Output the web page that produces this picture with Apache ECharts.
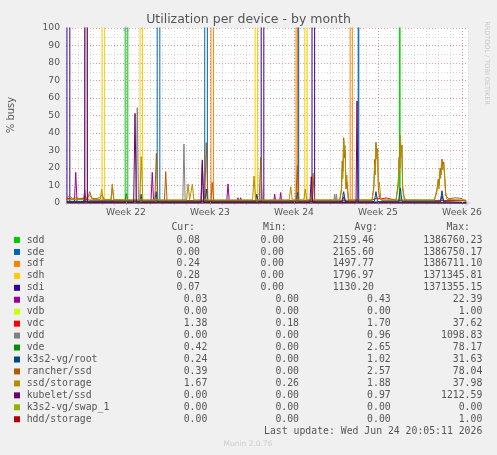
<!DOCTYPE html>
<html><head><meta charset="utf-8">
<script src="https://cdn.jsdelivr.net/npm/echarts@6/dist/echarts.min.js"></script>
<style>html,body{margin:0;padding:0;background:#F0F0F0;}#c{width:497px;height:455px;}</style>
</head><body><div id="c"></div>
<script>
// ---- axis data (x in days from start of Week 22) ----
const weekTicks = [0, 7, 14, 21, 28];
const weekLabels = ['Week 22', 'Week 23', 'Week 24', 'Week 25', 'Week 26'];
const yTicks = [0, 10, 20, 30, 40, 50, 60, 70, 80, 90, 100];

// ---- legend ----
const legendNames = ['sdd','sde','sdf','sdh','sdi','vda','vdb','vdc','vdd','vde','k3s2-vg/root','rancher/ssd','ssd/storage','kubelet/ssd','k3s2-vg/swap_1','hdd/storage'];
const legendColors = ['#00CC00','#0066B3','#FF8000','#FFCC00','#330099','#990099','#CCFF00','#FF0000','#808080','#008F00','#00487D','#B35A00','#B38F00','#6B006B','#8FB300','#B30000'];
const curVals = ['0.08','0.00','0.24','0.28','0.07','0.03','0.00','1.38','0.00','0.42','0.24','0.39','1.67','0.00','0.00','0.00'];
const minVals = ['0.00','0.00','0.00','0.00','0.00','0.00','0.00','0.18','0.00','0.00','0.00','0.00','0.26','0.00','0.00','0.00'];
const avgVals = ['2159.46','2165.60','1497.77','1796.97','1130.20','0.43','0.00','1.70','0.96','2.65','1.02','2.57','1.88','0.97','0.00','0.00'];
const maxVals = ['1386760.23','1386750.17','1386711.10','1371345.81','1371355.15','22.39','1.00','37.62','1098.83','78.17','31.63','78.04','37.98','1212.59','0.00','1.00'];

// ---- series points [day, % busy] ----
const sdd = [[-4.92,0.1],[-0.07,0.1],[0.04,1386760],[0.15,0.1],[22.78,0.1],[22.81,1386000],[22.84,0.1],[28.35,0.08]];
const sde = [[-4.92,0],[2.6,0],[2.71,1386750],[2.82,0],[6.56,0],[6.67,1386000],[6.78,0],[14.33,0],[14.36,1380000],[14.39,0],[19.35,0],[19.375,1380000],[19.4,0],[28.35,0]];
const sdf = [[-4.92,0.2],[7.08,0.2],[7.19,1386711],[7.3,0.2],[14.17,0.2],[14.225,1380000],[14.28,0.2],[18.68,0.2],[18.77,1386000],[18.86,0.2],[28.35,0.24]];
const sdh = [[-4.92,0.3],[-2.0,0.3],[-1.9,1371345],[-1.8,0.3],[1.175,0.3],[1.275,1371000],[1.375,0.3],[10.76,0.3],[10.86,1371000],[10.96,0.3],[14.9,0.3],[15.0,1371000],[15.1,0.3],[28.35,0.28]];
const sdi = [[-4.92,0.1],[-4.9,0.1],[-4.79,1371355],[-4.68,0.1],[11.265,0.1],[11.375,1371000],[11.485,0.1],[15.5,0.1],[15.61,1371000],[15.72,0.1],[28.35,0.07]];
const vda = [[-4.92,0.5],[-4.3,0.5],[-4.19,17.5],[-4.08,0.5],[-3.55,0.5],[-3.44,7.4],[-3.33,0.5],[2.08,0.3],[2.19,17.5],[2.3,0.3],[6.25,0.3],[6.36,22.39],[6.47,0.3],[8.39,0.3],[8.5,10.9],[8.61,0.3],[9.25,0.3],[9.33,3],[9.42,0.3],[9.5,0.3],[9.56,3],[9.65,0.3],[12.3,0.3],[12.39,5],[12.48,0.3],[12.8,0.3],[12.89,6],[12.98,0.3],[18.0,0.3],[18.14,3.5],[18.3,0.3],[26.2,0.3],[26.33,4],[26.5,0.3],[28.35,0.03]];
const vdb = [[-4.92,0],[28.35,0]];
const vdc = [[-4.92,2.6],[-4.6,2.3],[-4.2,1.9],[-3.6,2.5],[-3.0,1.6],[0,1.5],[10,1.4],[20.5,1.6],[20.9,2.8],[21.3,2.4],[21.7,2.9],[22.1,2.2],[22.5,1.6],[28.35,1.38]];
const vdd = [[-4.92,0.1],[-3.44,0.1],[-3.33,1098.83],[-3.22,0.1],[0.84,0.1],[0.94,54.5],[1.04,0.1],[4.73,0.1],[4.83,33.7],[4.93,0.1],[17.3,0.1],[17.39,5],[17.46,0.1],[17.53,5],[17.62,0.1],[28.35,0]];
const vde = [[-4.92,1],[-0.08,1],[0.03,5.5],[0.14,1],[28.35,0.42]];
const k3sRoot = [[-4.92,0.8],[1.15,0.8],[1.25,5],[1.35,0.8],[2.4,0.8],[2.5,6.5],[2.6,0.8],[6.58,0.8],[6.69,8],[6.8,0.8],[10.8,0.8],[10.9,5],[11.0,0.8],[14.17,0.8],[14.28,6],[14.39,0.8],[18.0,0.8],[18.14,6.5],[18.28,0.8],[20.7,0.8],[20.83,6.5],[20.96,0.8],[22.72,0.8],[22.86,8.5],[23.0,0.8],[26.2,0.8],[26.33,7],[26.46,0.8],[28.35,0.24]];
const rancherSsd = [[-4.92,3.2],[-4.7,3.8],[-4.45,2.6],[-4.2,3],[-3.9,2.4],[-3.6,2.8],[-3.2,2.2],[-3.03,6.5],[-2.85,2.8],[-2.5,2.4],[-2.2,3.2],[-2.0,4.5],[-1.8,2.0],[-1.5,1.4],[-1.25,1.4],[-1.14,9.5],[-1.0,1.3],[2.4,1.3],[2.53,28.4],[2.66,1.3],[3.2,1.3],[3.31,17.9],[3.42,1.3],[6.55,1.3],[6.69,34.5],[6.83,1.3],[7.08,1.3],[7.19,11.8],[7.3,1.3],[11.1,1.3],[11.23,26.1],[11.36,1.3],[14.15,1.3],[14.28,21.3],[14.41,1.3],[15.45,1.3],[15.58,17],[15.71,1.3],
  [17.8,1.3],[17.95,8],[18.02,24],[18.08,18],[18.14,37.3],[18.21,26],[18.27,30],[18.33,8],[18.42,12],[18.55,1.3],
  [20.5,1.3],[20.66,10],[20.73,25],[20.79,19],[20.83,34.7],[20.9,27],[20.97,31],[21.04,7],[21.15,3],[21.3,1.5],
  [22.5,1.5],[22.69,12],[22.76,26],[22.81,20],[22.86,38.5],[22.93,28],[22.99,33],[23.06,9],[23.2,1.5],
  [25.7,1.5],[25.92,8],[26.02,13.6],[26.1,10],[26.18,20],[26.25,16],[26.33,25.1],[26.4,21],[26.48,23.5],[26.57,14],[26.66,4],[26.9,2.5],[27.5,3],[28.0,2.5],[28.35,0.39]];
const ssdStorage = [[-4.92,2.0],[-3.5,2.0],[-3.03,4.5],[-2.8,2],[-2.15,2],[-2.03,7.8],[-1.9,2],[-1.25,2],[-1.14,10.9],[-1.03,2],[1.15,1.8],[1.275,26.5],[1.4,1.8],[5.05,1.8],[5.17,10.9],[5.3,1.8],[5.42,1.8],[5.53,10.9],[5.65,1.8],[10.55,1.8],[10.67,15.4],[10.8,1.8],[13.6,1.8],[13.73,9.3],[13.85,1.8],[14.82,1.8],[14.94,8],[15.06,1.8],
  [17.8,1.8],[17.95,6],[18.02,20],[18.07,14],[18.14,36],[18.2,28],[18.25,33],[18.32,10],[18.4,16],[18.5,3],[18.6,1.8],
  [20.5,1.8],[20.65,8],[20.72,22],[20.78,16],[20.83,33.5],[20.9,25],[20.96,30],[21.03,9],[21.1,12],[21.25,1.8],
  [22.5,1.8],[22.68,9],[22.75,24],[22.8,18],[22.86,37.98],[22.92,26],[22.98,32],[23.05,8],[23.15,4],[23.3,1.8],
  [25.7,1.8],[25.9,6],[26.0,12],[26.08,8],[26.15,18],[26.22,14],[26.3,24],[26.38,19],[26.46,22.5],[26.55,16],[26.62,6],[26.75,2],[26.9,1.8],[28.35,1.67]];
const kubeletSsd = [[-4.92,0.3],[-3.44,0.3],[-3.33,1212.59],[-3.22,0.3],[0.64,0.3],[0.75,51.2],[0.86,0.3],[6.25,0.3],[6.36,24.6],[6.47,0.3],[15.33,0.3],[15.44,15],[15.55,0.3],[19.17,0.3],[19.25,58.3],[19.33,0.3],[28.35,0]];
const k3sSwap = [[-4.92,0],[28.35,0]];
const hddStorage = [[-4.92,0],[28.35,0]];

const seriesData = [sdd, sde, sdf, sdh, sdi, vda, vdb, vdc, vdd, vde, k3sRoot, rancherSsd, ssdStorage, kubeletSsd, k3sSwap, hddStorage];

const chart = echarts.init(document.getElementById('c'), null, {renderer: 'canvas'});
const GRID_L = 66, GRID_R = 29, GRID_T = 28, GRID_B = 252;
const series = seriesData.map((d, i) => ({
  type: 'line', name: legendNames[i], data: d, symbol: 'none', showSymbol: false,
  lineStyle: {width: 1, color: legendColors[i]}, itemStyle: {color: legendColors[i]},
  clip: true, animation: false, z: (i === 6 || i >= 14) ? 1 : 2
}));
series.unshift({
  type: 'line', data: [], z: 1, silent: true, animation: false,
  markLine: {silent: true, symbol: 'none', animation: false, label: {show: false},
    lineStyle: {color: 'rgba(225,120,120,0.75)', type: [1, 2], width: 1},
    data: weekTicks.map(v => ({xAxis: v}))}
});

const mono = 'DejaVu Sans Mono';
const graphics = [];
graphics.push({type: 'text', left: 'center', top: 13, style: {text: 'Utilization per device - by month', font: '12.5px "DejaVu Sans"', fill: '#555'}});
graphics.push({type: 'text', x: 11, y: 115, rotation: Math.PI / 2, style: {text: '% busy', font: '10px "DejaVu Sans"', fill: '#555', align: 'center', verticalAlign: 'middle'}});
graphics.push({type: 'text', x: 487, y: 63, rotation: -Math.PI / 2, style: {text: 'RRDTOOL / TOBI OETIKER', font: '6.5px "DejaVu Sans"', fill: '#c8c8c8', align: 'center', verticalAlign: 'middle'}});
const hdrY = 227.3;
[['Cur:', 195], ['Min:', 286.7], ['Avg:', 378], ['Max:', 470]].forEach(h => {
  graphics.push({type: 'text', x: h[1], y: hdrY, style: {text: h[0], font: '9.8px "' + mono + '"', fill: '#555', align: 'right', verticalAlign: 'middle'}});
});
legendNames.forEach((n, i) => {
  const y = 240 + 11.95 * i;
  const cols = i < 5 ? [200, 284, 374, 482.3] : [207.3, 299, 390.7, 482.3];
  graphics.push({type: 'rect', shape: {x: 14, y: y - 3, width: 6, height: 6}, style: {fill: legendColors[i]}});
  graphics.push({type: 'text', x: 26.7, y: y, style: {text: n, font: '9.8px "' + mono + '"', fill: '#555', align: 'left', verticalAlign: 'middle'}});
  [curVals[i], minVals[i], avgVals[i], maxVals[i]].forEach((v, k) => {
    graphics.push({type: 'text', x: cols[k], y: y, style: {text: v, font: '9.8px "' + mono + '"', fill: '#555', align: 'right', verticalAlign: 'middle'}});
  });
});
graphics.push({type: 'text', x: 482.3, y: 431, style: {text: 'Last update: Wed Jun 24 20:05:11 2026', font: '9.8px "' + mono + '"', fill: '#555', align: 'right', verticalAlign: 'middle'}});
graphics.push({type: 'text', x: 248, y: 444.3, style: {text: 'Munin 2.0.76', font: '7.5px "DejaVu Sans"', fill: '#cccccc', align: 'center', verticalAlign: 'middle'}});

chart.setOption({
  backgroundColor: '#F0F0F0',
  animation: false,
  textStyle: {fontFamily: 'DejaVu Sans'},
  grid: {left: GRID_L, right: GRID_R, top: GRID_T, bottom: GRID_B, show: true, backgroundColor: '#FFFFFF', borderWidth: 0},
  xAxis: {
    type: 'value', min: -5, max: 28.5, interval: 1,
    axisLine: {show: true, lineStyle: {color: '#CFD6F8', width: 1}, symbol: ['none', 'arrow'], symbolSize: [6, 7], symbolOffset: [0, 3]},
    axisTick: {show: true, length: 2, lineStyle: {color: '#c8c8d8'}},
    splitLine: {show: true, lineStyle: {color: '#d8d8d8', type: [1, 2], width: 1}},
    axisLabel: {color: '#555', fontSize: 9.2, margin: 5, showMaxLabel: false, showMinLabel: true,
      formatter: v => { const k = weekTicks.indexOf(Math.round(v)); return (k >= 0 && Math.abs(v - Math.round(v)) < 1e-6) ? weekLabels[k] : ''; }}
  },
  yAxis: {
    type: 'value', min: 0, max: 100, interval: 10,
    axisLine: {show: true, lineStyle: {color: '#CFD6F8', width: 1}, symbol: ['none', 'arrow'], symbolSize: [6, 7], symbolOffset: [0, 3]},
    axisTick: {show: false},
    splitLine: {show: true, lineStyle: {color: 'rgba(225,120,120,0.75)', type: [1, 2], width: 1}},
    minorTick: {show: false, splitNumber: 2},
    minorSplitLine: {show: true, lineStyle: {color: '#d8d8d8', type: [1, 2], width: 1}},
    axisLabel: {color: '#555', fontSize: 9.2, margin: 6, formatter: v => (yTicks.indexOf(v) >= 0 ? String(v) : '')}
  },
  series: series,
  graphic: graphics
});
</script>
</body></html>
